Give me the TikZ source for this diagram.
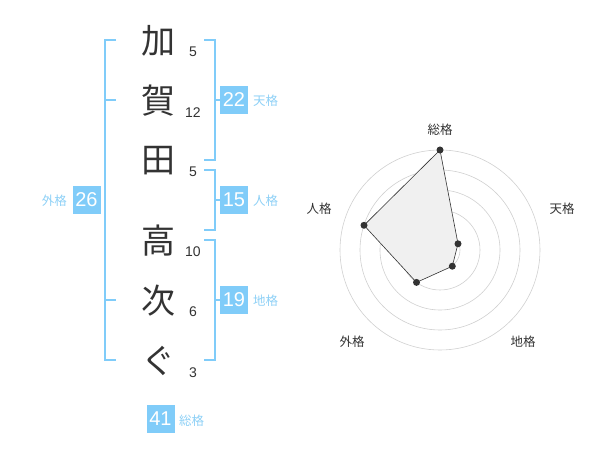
\documentclass[tikz,border=0pt]{standalone}
\usepackage{fontspec}
\setmainfont{Liberation Sans}
\newfontfamily\jp{Noto Sans CJK JP}
\definecolor{boxblue}{HTML}{80CCF9}
\definecolor{lblblue}{HTML}{8DD0F6}
\definecolor{inkgray}{HTML}{333333}
\definecolor{ringgray}{HTML}{D0D0D0}
\begin{document}
\begin{tikzpicture}[x=1pt,y=-1pt,
  kanji/.style={font=\jp\fontsize{34}{34}\selectfont, text=inkgray, inner sep=0pt},
  stroke/.style={font=\fontsize{14}{14}\selectfont, text=inkgray, inner sep=0pt},
  numbox/.style={fill=boxblue, text=white, minimum width=28, minimum height=28, inner sep=0pt, font=\fontsize{20}{20}\selectfont},
  lbl/.style={font=\jp\fontsize{12.5}{12.5}\selectfont, text=lblblue, inner sep=0pt},
  brk/.style={draw=boxblue, line width=2pt},
  ring/.style={draw=ringgray, line width=0.6pt},
  axlbl/.style={font=\jp\fontsize{12.5}{12.5}\selectfont, text=inkgray, inner sep=0pt},
  pt/.style={circle, fill=inkgray, minimum size=7, inner sep=0pt}]
\useasboundingbox (0,0) rectangle (600,470);
% name characters
\node[kanji] (k1) at (158,41) {加};
\node[kanji] (k2) at (158,101) {賀};
\node[kanji] (k3) at (158,161) {田};
\node[kanji] (k4) at (158,241) {高};
\node[kanji] (k5) at (158,301) {次};
\node[kanji] (k6) at (158,361) {ぐ};
\node[stroke] (s1) at (193,52) {5};
\node[stroke] (s2) at (193,113) {12};
\node[stroke] (s3) at (193,172) {5};
\node[stroke] (s4) at (193,252) {10};
\node[stroke] (s5) at (193,312) {6};
\node[stroke] (s6) at (193,373) {3};
% left bracket
\draw[brk] (116,40) -- (105,40) -- (105,360) -- (116,360);
\draw[brk] (105,100) -- (116,100);
\draw[brk] (105,300) -- (116,300);
% right brackets
\draw[brk] (204,40) -- (215,40) -- (215,160) -- (204,160);
\draw[brk] (215,100) -- (220,100);
\draw[brk] (204,170) -- (215,170) -- (215,230) -- (204,230);
\draw[brk] (215,200) -- (220,200);
\draw[brk] (204,240) -- (215,240) -- (215,360) -- (204,360);
\draw[brk] (215,300) -- (220,300);
% boxes
\node[numbox] (ten) at (234,100) {22};
\node[lbl, anchor=west] (tenl) at (253,101) {天格};
\node[numbox] (jin) at (234,200) {15};
\node[lbl, anchor=west] (jinl) at (253,201) {人格};
\node[numbox] (chi) at (234,300) {19};
\node[lbl, anchor=west] (chil) at (253,301) {地格};
\node[numbox] (gai) at (86.5,200) {26};
\node[lbl, anchor=east] (gail) at (67,201) {外格};
\node[numbox] (sou) at (160.5,419) {41};
\node[lbl, anchor=west] (soul) at (179,421) {総格};
% radar
\coordinate (c) at (440,250);
\foreach \r in {20,40,60,80,100} \draw[ring] (c) circle[radius=\r];
\fill[ringgray] (c) circle[radius=3.5];
\path (c) ++(0,-100) coordinate (pS);
\path (c) ++(18,-6.2) coordinate (pT);
\path (c) ++(12.3,16.2) coordinate (pC);
\path (c) ++(-23.5,32.4) coordinate (pG);
\path (c) ++(-76,-24.7) coordinate (pJ);
\draw[fill=black!6, draw=inkgray, line width=0.6pt] (pS) -- (pT) -- (pC) -- (pG) -- (pJ) -- cycle;
\foreach \p in {pS,pT,pC,pG,pJ} \node[pt] at (\p) {};
\node[axlbl] (aS) at (440,130) {総格};
\node[axlbl] (aT) at (562,209) {天格};
\node[axlbl] (aC) at (523,342) {地格};
\node[axlbl] (aG) at (352,342) {外格};
\node[axlbl] (aJ) at (319,209) {人格};
\end{tikzpicture}
\end{document}
